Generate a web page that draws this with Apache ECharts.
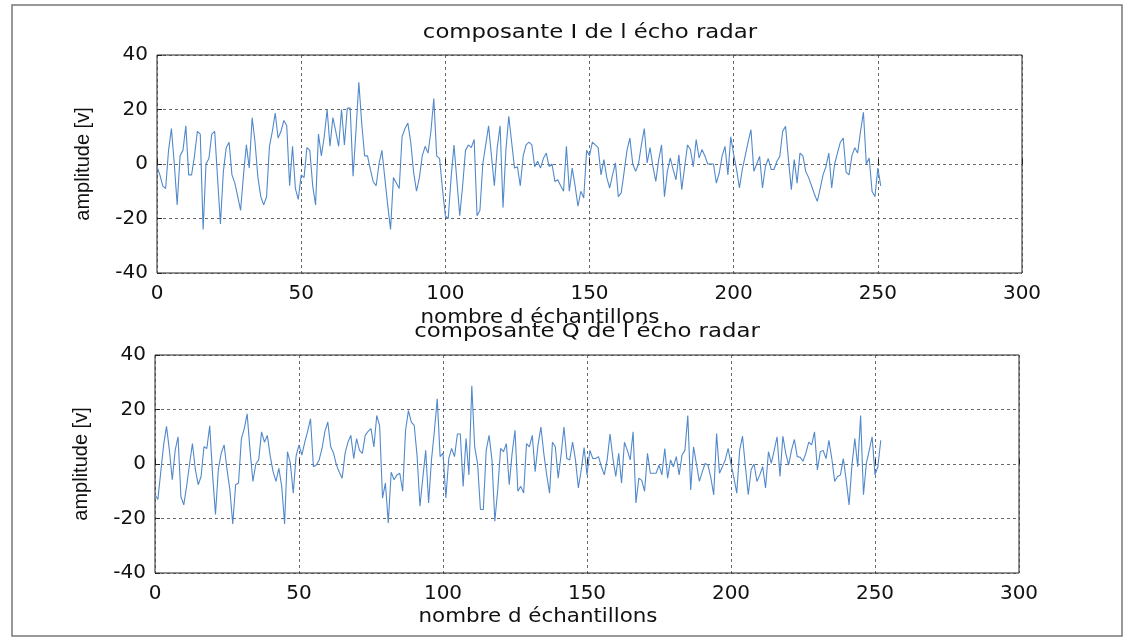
<!DOCTYPE html>
<html>
<head>
<meta charset="utf-8">
<script src="https://cdn.jsdelivr.net/npm/echarts@6/dist/echarts.min.js"></script>
<style>
  html, body { margin: 0; padding: 0; background: #ffffff; }
  #chart { width: 1126px; height: 642px; }
</style>
</head>
<body>
<div id="chart"></div>
<script>
// In-phase component of the radar echo (one value per sample, starting at sample 0)
const iComponent = [
  -1, -4, -8, -9, 5, 13, 0, -15, 3, 5,
  14, -4, -4, 3, 12, 11, -24, 0, 2, 11,
  12, -5, -22, -3, 6, 8, -4, -7, -12, -17,
  -4, 7, -1.5, 17, 8, -5, -12, -15, -12, 6.5,
  12, 18.7, 9.5, 12, 16, 14, -8, 6.5, -9, -13,
  -4, -5, 6, 5, -8, -15, 11, 3, 10, 20,
  6.5, 17, 12, 6.5, 20, 7, 20.5, 20.5, -4.5, 12,
  30, 15, 3, 3, -2, -6.5, -8, 0, 5, -5,
  -15, -24, -5, -7, -9, 10, 13, 15, 8, -3,
  -10, -5, 3, 6.5, 4, 12, 24, 3, 2, -9,
  -19, -20, -5, 7, -6, -19, -8, 5, 7, 6,
  9, -19, -17, 0, 7, 14, 3, -8, 6, 14,
  -16, 5, 17.5, 8, -1.5, -1, -8, 3, 7, 8,
  7, -1, 1, -1.5, 2, 4, -1, 0, -6.4, -5.8,
  -8, -10, 6.5, -10, -1.5, -8, -15.5, -10, -12.5, 5,
  3, 8, 7, 6, -4, 1.6, -5, -8.8, -4, 0.4,
  -12, -10.6, -3, 5, 9.5, 0, -2.7, 0, 7, 13,
  0.4, 6, -1, -6.4, 1.6, 7, -12, -2.7, 2.2, -2,
  -5.8, 3.4, -9.4, -1, 7, 5.3, -1, 9, 2.2, 5.3,
  3, 0, 0, 0, -7, -3.3, 3, 6.5, -4, 10,
  3.5, -2, -8.8, -2, 3, 8, 12.6, -2.7, 0, 2.8,
  -8.8, -1, 2, -2, -2, 1, 2.8, 12, 13.8, 1.6,
  -9.4, 1.6, -7, 4, 3, -2.7, -5, -8, -11, -13.7,
  -9, -4, -1, 4, -8.8, 0, 4, 8, 9.5, -3,
  -4, 3, 6, 4, 12, 19, 0, 2.2, -10, -12,
  -1.5, -8
];

// Quadrature component of the radar echo
const qComponent = [
  -11.3, -13, -3, 7, 13.8, 5, -5.8, 5, 10, -12,
  -15, -8, 0, 7.5, -2, -7.6, -4.6, 6.3, 5.7, 14,
  -4, -18.5, -2, 4, 7, -2, -9.5, -22, -7.6, -7,
  9.3, 13, 18.4, 5, -6.4, 0, 1.5, 11.8, 8, 10.5,
  3, -2.8, -6.4, -1.6, -8.2, -22, 4.5, 0.2, -10.7, 3,
  7, 3.3, 8, 12, 16.6, -1, -0.4, 1.5, 5.7, 12,
  15.4, 6.3, 4, -0.4, -3, -5.2, 3.9, 8, 10.5, 2,
  9.3, 5, 3.9, 10.5, 12, 13, 6.3, 17.8, 14, -12.5,
  -7, -21.6, -3, -5.8, -4, -3.4, -10, 12.4, 19.6, 15.4,
  14.2, 3, -15.5, -5, 5, -14.3, 1.5, 12, 23.9, 2.7,
  4, -12.5, 2, 5.7, 2.7, 11, 11, -8.2, 9.3, -4,
  28.7, 6.3, 0.2, -16.7, -16.7, 5, 10.5, 1.5, -21, -9.5,
  5.7, 4.5, 7.5, -7.6, 3.9, 12.4, -10, -8.2, -10.7, 7.5,
  6.3, 10.5, -2.8, 7, 13.6, 3.9, -4, -10.7, 8, 6.3,
  -5.2, 3.3, 13.6, 2, 1.5, 8, 1.5, -8.8, -2.2, 6,
  -4, 5, 2, 2, 2.7, -1, -4, 1.5, 11, 2,
  -4.6, 3.9, -7, 8, 5, 1.5, 11.8, -14.3, -5.2, -6,
  -10, 3.9, -3.4, -3.4, -3.4, -0.4, -4, 5.7, -5.2, 1.5,
  -1, 2.7, -4, 3.3, 5, 17.8, -9.5, 6.3, 0, -6.4,
  -3, 0.2, -0.4, -5, -11.3, 11.2, -3.4, -1, 1.5, 5.7,
  0, -5, -10.7, 5, 10.2, -1, -11.3, -2, 0, -6.4,
  -4, -1, -8.8, 4.5, 0.2, 5, 10, -4.6, 10.2, 4,
  -0.4, 5, 9, 2.7, 2.5, 1, 4, 8, 7, 11.8,
  -2.2, 4.5, 5, 2, 8.7, 2, -6.4, -4.6, -4, 2,
  -6, -15, -0.4, 9.3, -1, 17.8, -11.3, 0.2, 5, 10,
  -4, -1, 8.7
];

const titles = ['composante I de l écho radar', 'composante Q de l écho radar'];
const xAxisTitle = 'nombre d échantillons';
const yAxisTitle = 'amplitude [v]';

const FONT = '"Liberation Sans", Arial, Helvetica, sans-serif';
const WIDE_FONT = '"DejaVu Sans", "Liberation Sans", sans-serif';
const TEXT_COLOR = '#111111';
const LINE_COLOR = '#5289cb';

function toPairs(values) {
  return values.map((v, i) => [i, v]);
}

function makeXAxis(gridIndex) {
  return {
    type: 'value', gridIndex: gridIndex, min: 0, max: 300, interval: 50,
    axisLine: { show: false },
    axisTick: { show: true, inside: true, length: 5, lineStyle: { color: '#222' } },
    axisLabel: { fontSize: 20, color: TEXT_COLOR, fontFamily: WIDE_FONT, margin: 11 },
    splitLine: { show: true, lineStyle: { color: '#444', type: [3, 3], width: 0.8 } }
  };
}

function makeYAxis(gridIndex) {
  return {
    type: 'value', gridIndex: gridIndex, min: -40, max: 40, interval: 20,
    axisLine: { show: false },
    axisTick: { show: true, inside: true, length: 5, lineStyle: { color: '#222' } },
    axisLabel: { fontSize: 20, color: TEXT_COLOR, fontFamily: WIDE_FONT, margin: 9 },
    splitLine: { show: true, lineStyle: { color: '#444', type: [3, 3], width: 0.8 } },
    name: yAxisTitle, nameLocation: 'middle', nameRotate: 90, nameGap: 64,
    nameTextStyle: { fontSize: 20, color: TEXT_COLOR, fontFamily: FONT }
  };
}

// Centred caption, widened horizontally like the rest of the lettering
function label(text, x, y, stretch) {
  return {
    type: 'text', x: x, y: y, scaleX: stretch,
    style: {
      text: text, fill: TEXT_COLOR, fontSize: 20, fontFamily: WIDE_FONT,
      textAlign: 'center', textVerticalAlign: 'middle'
    }
  };
}

const chart = echarts.init(document.getElementById('chart'), null, { renderer: 'canvas' });

chart.setOption({
  animation: false,
  backgroundColor: '#ffffff',
  grid: [
    { left: 157, top: 55, width: 865, height: 218, show: true, borderColor: '#222', borderWidth: 1 },
    { left: 155, top: 355, width: 864, height: 218, show: true, borderColor: '#222', borderWidth: 1 }
  ],
  xAxis: [makeXAxis(0), makeXAxis(1)],
  yAxis: [makeYAxis(0), makeYAxis(1)],
  series: [
    {
      type: 'line', xAxisIndex: 0, yAxisIndex: 0, data: toPairs(iComponent),
      showSymbol: false, lineStyle: { color: LINE_COLOR, width: 1.1 }
    },
    {
      type: 'line', xAxisIndex: 1, yAxisIndex: 1, data: toPairs(qComponent),
      showSymbol: false, lineStyle: { color: LINE_COLOR, width: 1.1 }
    }
  ],
  graphic: [
    {
      type: 'rect', shape: { x: 12, y: 5, width: 1110, height: 631 },
      style: { fill: 'none', stroke: '#777', lineWidth: 1.5 }
    },
    label(titles[0], 590, 33, 1.14),
    label(xAxisTitle, 540, 318, 1.07),
    label(titles[1], 587, 332, 1.14),
    label(xAxisTitle, 538, 617, 1.07)
  ]
});
</script>
</body>
</html>
